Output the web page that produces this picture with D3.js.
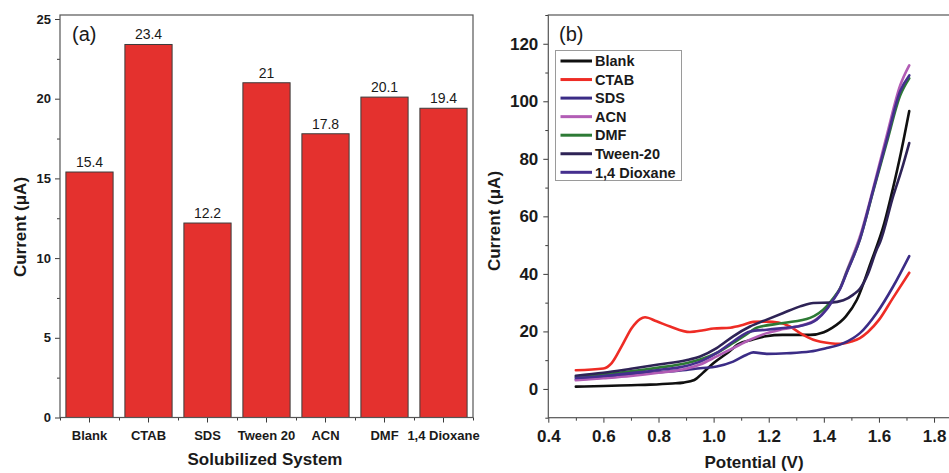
<!DOCTYPE html>
<html><head><meta charset="utf-8">
<script src="https://cdn.jsdelivr.net/npm/d3@7"></script>
<style>
html,body{margin:0;padding:0;background:#fff;}
svg{display:block;}
text{font-family:"Liberation Sans",Arial,Helvetica,sans-serif;fill:#1a1a1a;}
</style>
</head><body>
<svg id="chart" width="949" height="473"></svg>
<script>
// ---- Panel (a): peak current per solubilized system ----
const categories = ["Blank", "CTAB", "SDS", "Tween 20", "ACN", "DMF", "1,4 Dioxane"];
const currents = [15.4, 23.4, 12.2, 21, 17.8, 20.1, 19.4];
const yTicksA = [0, 5, 10, 15, 20, 25];
const yMinorA = [2.5, 7.5, 12.5, 17.5, 22.5];

// ---- Panel (b): voltammograms, [potential V, current µA] ----
const blankCV = [[0.5,0.8],[0.6,1.0],[0.7,1.3],[0.77,1.5],[0.85,1.9],[0.89,2.2],[0.93,3.1],[0.96,5.5],[1.0,9.0],[1.05,12.5],[1.09,15.6],[1.14,17.1],[1.19,18.3],[1.25,18.8],[1.35,18.8],[1.40,19.7],[1.43,21.2],[1.48,25.2],[1.52,31],[1.57,43.8],[1.62,57.8],[1.65,69.4],[1.68,82.2],[1.71,96.6]];
const ctabCV = [[0.5,6.5],[0.6,7.1],[0.63,9],[0.666,14.8],[0.703,21.2],[0.733,24.3],[0.751,24.9],[0.793,23.5],[0.842,21.7],[0.914,19.8],[0.963,20.4],[1.0,21.0],[1.06,21.3],[1.108,22.3],[1.144,23.3],[1.193,23.4],[1.235,23.1],[1.277,21.7],[1.314,19.4],[1.362,17.1],[1.423,15.9],[1.459,15.7],[1.5,16.5],[1.531,17.7],[1.56,19.8],[1.6,24],[1.65,31.5],[1.71,40.4]];
const sdsCV = [[0.5,3.3],[0.6,4.0],[0.7,5.0],[0.8,5.8],[0.9,6.6],[0.951,7.2],[1.011,7.8],[1.071,9.5],[1.12,11.9],[1.144,12.7],[1.193,12.2],[1.265,12.4],[1.35,13.0],[1.41,14.2],[1.459,15.4],[1.507,17.7],[1.531,19.4],[1.592,26.4],[1.652,35.7],[1.71,46.2]];
const acnCV = [[0.5,3.0],[0.6,3.7],[0.7,4.5],[0.8,5.6],[0.9,7.0],[0.951,8.5],[1.011,11.3],[1.071,14.2],[1.132,17.1],[1.193,19.4],[1.253,20.8],[1.314,22.0],[1.374,24.3],[1.41,27.8],[1.434,31.2],[1.459,35],[1.483,41],[1.531,53],[1.58,70],[1.628,88],[1.677,105.5],[1.71,112.5]];
const dmfCV = [[0.5,4.2],[0.6,5.0],[0.7,6.1],[0.8,7.4],[0.9,8.9],[0.951,10.2],[1.011,12.5],[1.071,16.0],[1.132,19.8],[1.156,21.3],[1.253,22.9],[1.35,24.7],[1.41,28.7],[1.434,31.5],[1.459,35],[1.483,40.6],[1.531,52],[1.58,69],[1.628,85.5],[1.677,102],[1.71,108]];
const tweenCV = [[0.5,4.6],[0.6,5.6],[0.7,7.0],[0.8,8.5],[0.9,10.0],[0.951,11.3],[1.011,14.2],[1.071,18.3],[1.132,21.7],[1.193,24.1],[1.253,26.4],[1.314,28.7],[1.362,29.9],[1.423,30.0],[1.471,30.8],[1.507,32.8],[1.531,34.8],[1.56,40],[1.592,48.5],[1.604,51],[1.652,67.1],[1.683,76.4],[1.71,85.5]];
const dioxaneCV = [[0.5,3.8],[0.6,4.5],[0.7,5.5],[0.8,6.6],[0.9,8.0],[0.951,9.5],[1.011,12.5],[1.071,16.5],[1.132,20.0],[1.193,20.6],[1.253,21.2],[1.314,21.9],[1.374,24.1],[1.41,27.6],[1.434,31.0],[1.459,34.8],[1.483,40.4],[1.531,52],[1.58,69.4],[1.628,86.5],[1.677,103.5],[1.71,109]];

const seriesNames = ["Blank", "CTAB", "SDS", "ACN", "DMF", "Tween-20", "1,4 Dioxane"];
const seriesData = [blankCV, ctabCV, sdsCV, acnCV, dmfCV, tweenCV, dioxaneCV];
const seriesColors = ["#101010", "#ee2c25", "#3b2c86", "#b25db5", "#2d7a35", "#2e2356", "#452f8e"];
const xTicksB = [0.4, 0.6, 0.8, 1.0, 1.2, 1.4, 1.6, 1.8];
const xMinorB = [0.5, 0.7, 0.9, 1.1, 1.3, 1.5, 1.7, 1.9];
const yTicksB = [0, 20, 40, 60, 80, 100, 120];
const yMinorB = [-10, 10, 30, 50, 70, 90, 110, 130];

const svg = d3.select("#chart");
const axisColor = "#3a3a3a";

// ================= Panel (a) =================
const A = {left: 60, right: 473, top: 15, bottom: 417.5};
const xA = d3.scaleBand().domain(categories).range([A.left, A.right])
  .paddingInner(0.2).paddingOuter(0.1);
const yA = d3.scaleLinear().domain([0, 25.25]).range([A.bottom, A.top]);
const slotA = d3.scaleLinear().domain([0, categories.length]).range([A.left, A.right]);

const gA = svg.append("g");

// bars
gA.selectAll("rect.bar").data(currents).join("rect")
  .attr("class", "bar")
  .attr("x", (d, i) => xA(categories[i]))
  .attr("width", xA.bandwidth())
  .attr("y", d => yA(d))
  .attr("height", d => yA(0) - yA(d))
  .attr("fill", "#e4312e")
  .attr("stroke", "#3c3c3c")
  .attr("stroke-width", 1);

// value labels
gA.selectAll("text.val").data(currents).join("text")
  .attr("class", "val")
  .attr("x", (d, i) => xA(categories[i]) + xA.bandwidth() / 2)
  .attr("y", d => yA(d) - 5)
  .attr("text-anchor", "middle")
  .style("font-size", "14px")
  .text(d => d);

// left axis
const yAxisA = gA.append("g").attr("transform", `translate(${A.left},0)`)
  .call(d3.axisLeft(yA).tickValues(yTicksA).tickSize(5).tickSizeOuter(0).tickPadding(4));
const yMinA = gA.append("g").attr("transform", `translate(${A.left},0)`)
  .call(d3.axisLeft(yA).tickValues(yMinorA).tickSize(3).tickSizeOuter(0).tickFormat(""));
// bottom axis
const xAxisA = gA.append("g").attr("transform", `translate(0,${A.bottom})`)
  .call(d3.axisBottom(xA).tickSize(5).tickSizeOuter(0).tickPadding(8));
const xMinA = gA.append("g").attr("transform", `translate(0,${A.bottom})`)
  .call(d3.axisBottom(slotA).tickValues(d3.range(0, categories.length + 1)).tickSize(3).tickSizeOuter(0).tickFormat(""));

[yAxisA, yMinA, xAxisA, xMinA].forEach(g => {
  g.select(".domain").remove();
  g.selectAll(".tick line").attr("stroke", axisColor);
});
yAxisA.selectAll(".tick text").style("font-size", "13px").style("font-weight", "bold").attr("fill", "#1a1a1a");
xAxisA.selectAll(".tick text").style("font-size", "13px").style("font-weight", "bold").attr("fill", "#1a1a1a");

// frame
gA.append("rect").attr("x", A.left).attr("y", A.top)
  .attr("width", A.right - A.left).attr("height", A.bottom - A.top)
  .attr("fill", "none").attr("stroke", "#555").attr("stroke-width", 1.2);

gA.append("text").attr("x", 72).attr("y", 41).style("font-size", "20px").text("(a)");
gA.append("text").attr("x", 265).attr("y", 465).attr("text-anchor", "middle")
  .style("font-size", "17px").style("font-weight", "bold").text("Solubilized System");
gA.append("text").attr("transform", "translate(26,227) rotate(-90)").attr("text-anchor", "middle")
  .style("font-size", "17px").style("font-weight", "bold").text("Current (μA)");

// ================= Panel (b) =================
const B = {left: 548.3, top: 15, bottom: 417.7};
const xB = d3.scaleLinear().domain([0.4, 1.9]).range([B.left, 961.6]);
const yB = d3.scaleLinear().domain([-10, 130]).range([B.bottom, B.top]);
const B_right = xB.range()[1];

const gB = svg.append("g");

const yAxisB = gB.append("g").attr("transform", `translate(${B.left},0)`)
  .call(d3.axisLeft(yB).tickValues(yTicksB).tickSize(5).tickSizeOuter(0).tickPadding(5));
const yMinB = gB.append("g").attr("transform", `translate(${B.left},0)`)
  .call(d3.axisLeft(yB).tickValues(yMinorB).tickSize(3).tickSizeOuter(0).tickFormat(""));
const xAxisB = gB.append("g").attr("transform", `translate(0,${B.bottom})`)
  .call(d3.axisBottom(xB).tickValues(xTicksB).tickSize(5).tickSizeOuter(0).tickPadding(7).tickFormat(d3.format(".1f")));
const xMinB = gB.append("g").attr("transform", `translate(0,${B.bottom})`)
  .call(d3.axisBottom(xB).tickValues(xMinorB).tickSize(3).tickSizeOuter(0).tickFormat(""));

[yAxisB, yMinB, xAxisB, xMinB].forEach(g => {
  g.select(".domain").remove();
  g.selectAll(".tick line").attr("stroke", axisColor);
});
yAxisB.selectAll(".tick text").style("font-size", "17px").style("font-weight", "bold").attr("fill", "#1a1a1a");
xAxisB.selectAll(".tick text").style("font-size", "17px").style("font-weight", "bold").attr("fill", "#1a1a1a");

gB.append("rect").attr("x", B.left).attr("y", B.top)
  .attr("width", B_right - B.left).attr("height", B.bottom - B.top)
  .attr("fill", "none").attr("stroke", "#555").attr("stroke-width", 1.2);

// curves
const line = d3.line().x(d => xB(d[0])).y(d => yB(d[1])).curve(d3.curveMonotoneX);
gB.selectAll("path.cv").data(seriesData).join("path")
  .attr("class", "cv")
  .attr("d", line)
  .attr("fill", "none")
  .attr("stroke", (d, i) => seriesColors[i])
  .attr("stroke-width", 2.6)
  .attr("stroke-linejoin", "round")
  .attr("stroke-linecap", "round");

gB.append("text").attr("x", 559).attr("y", 41).style("font-size", "20px").text("(b)");
gB.append("text").attr("x", 754).attr("y", 468).attr("text-anchor", "middle")
  .style("font-size", "17px").style("font-weight", "bold").text("Potential (V)");
gB.append("text").attr("transform", "translate(500,221) rotate(-90)").attr("text-anchor", "middle")
  .style("font-size", "17px").style("font-weight", "bold").text("Current (μA)");

// legend
const leg = gB.append("g").attr("transform", "translate(555.5,50.5)");
leg.append("rect").attr("width", 126).attr("height", 130)
  .attr("fill", "#fff").attr("stroke", "#9a9a9a").attr("stroke-width", 1);
const rows = leg.selectAll("g.row").data(seriesNames).join("g")
  .attr("class", "row")
  .attr("transform", (d, i) => `translate(0,${10.5 + i * 18.55})`);
rows.append("line").attr("x1", 5).attr("x2", 36.5)
  .attr("stroke", (d, i) => seriesColors[i]).attr("stroke-width", 3);
rows.append("text").attr("x", 39.5).attr("dy", "0.36em")
  .style("font-size", "14.5px").style("font-weight", "bold").text(d => d);
</script>
</body></html>
